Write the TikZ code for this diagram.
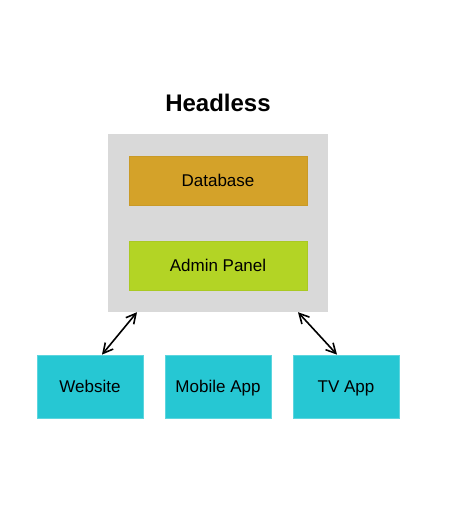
\documentclass[tikz,border=0pt]{standalone}
\usepackage{fontspec}
\setmainfont{Liberation Sans}
\usepackage{tikz}
\usetikzlibrary{arrows.meta,positioning}
\definecolor{core}{HTML}{D9D9D9}
\definecolor{dbcol}{HTML}{D4A229}
\definecolor{admcol}{HTML}{B3D425}
\definecolor{client}{HTML}{26C7D3}

\begin{document}
\begin{tikzpicture}[
  x=1pt, y=-1pt,
  font=\fontsize{17pt}{20pt}\selectfont,
  box/.style={draw=#1!95!black, line width=0.4pt, fill=#1, minimum width=178pt, minimum height=49pt, align=center, inner sep=0pt, text height=12.2pt, text depth=0pt},
  cbox/.style={draw=client!75!white, line width=0.8pt, fill=client, minimum width=106pt, minimum height=63pt, inner sep=0pt, text height=12.2pt, text depth=0pt},
  arr/.style={{Straight Barb[length=3.4mm,width=3.6mm]}-{Straight Barb[length=3.4mm,width=3.6mm]}, line width=1.6pt}
]
\useasboundingbox (0,0) rectangle (471,512);
% headless core
\node[font=\fontsize{24pt}{28pt}\selectfont\bfseries] (title) at (218,103) {Headless};
\node[fill=core, minimum width=220pt, minimum height=178pt, inner sep=0pt] (core) at (218,223) {};
\node[box=dbcol] (db) at (218,180.5) {Database};
\node[box=admcol] (admin) at (218,265.5) {Admin Panel};
% clients
\node[cbox] (web) at (90,386.5) {Website};
\node[cbox] (mobile) at (218,386.5) {Mobile App};
\node[cbox] (tv) at (346,386.5) {TV App};
% links
\draw[arr] ([xshift=-81pt]core.south) -- ([xshift=12pt]web.north);
\draw[arr] ([xshift=80pt]core.south) -- ([xshift=-9pt]tv.north);
\end{tikzpicture}
\end{document}
